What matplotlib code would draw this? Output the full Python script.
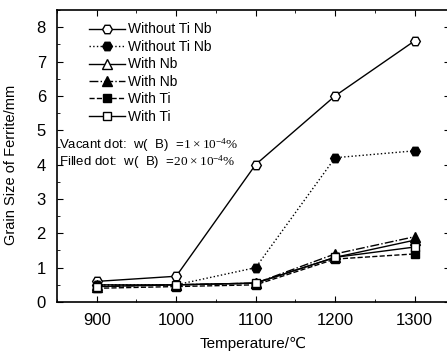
import matplotlib.pyplot as plt
from matplotlib.ticker import MultipleLocator

plt.rcParams['font.family'] = ['Liberation Sans', 'DejaVu Sans']
plt.rcParams['mathtext.fontset'] = 'custom'
plt.rcParams['mathtext.rm'] = 'Liberation Serif'

# temperatures (C)
temps = [900, 1000, 1100, 1200, 1300]
# grain size of ferrite (mm)
no_tinb_open = [0.6, 0.75, 4.0, 6.0, 7.6]
no_tinb_fill = [0.5, 0.5, 1.0, 4.2, 4.4]
nb_open = [0.5, 0.5, 0.55, 1.3, 1.8]
nb_fill = [0.45, 0.5, 0.55, 1.4, 1.9]
ti_fill = [0.4, 0.45, 0.5, 1.25, 1.4]
ti_open = [0.45, 0.5, 0.55, 1.3, 1.6]

fig = plt.figure(figsize=(4.47, 3.61), dpi=100)
ax = fig.add_axes([0.1275, 0.1634, 0.88, 0.809])

ms = 7
ax.plot(temps, no_tinb_open, '-', marker='H', ms=ms, mfc='white', mec='black', color='black', lw=1, label='Without Ti Nb')
ax.plot(temps, no_tinb_fill, ':', marker='H', ms=ms, mfc='black', mec='black', color='black', lw=1, label='Without Ti Nb')
ax.plot(temps, nb_open, '-', marker='^', ms=ms, mfc='white', mec='black', color='black', lw=1, label='With Nb')
ax.plot(temps, nb_fill, '-.', marker='^', ms=ms, mfc='black', mec='black', color='black', lw=1, label='With Nb')
ax.plot(temps, ti_fill, '--', marker='s', ms=6, mfc='black', mec='black', color='black', lw=1, label='With Ti')
ax.plot(temps, ti_open, '-', marker='s', ms=6, mfc='white', mec='black', color='black', lw=1, label='With Ti')

ax.set_xlim(850, 1345)
ax.set_ylim(0, 8.5)
ax.xaxis.set_major_locator(MultipleLocator(100))
ax.xaxis.set_minor_locator(MultipleLocator(50))
ax.yaxis.set_major_locator(MultipleLocator(1))
ax.yaxis.set_minor_locator(MultipleLocator(0.5))
ax.tick_params(which='both', direction='in', top=True, right=True, labelsize=12)
ax.tick_params(which='major', length=4, pad=8)
ax.tick_params(which='minor', length=2.5)
for s in ax.spines.values():
    s.set_linewidth(1.2)

ax.set_xlabel('Temperature/℃', fontsize=11, labelpad=6)
ax.set_ylabel('Grain Size of Ferrite/mm', fontsize=10.5, labelpad=6)
ax.yaxis.set_label_coords(-0.1, 0.47)

ax.legend(loc='upper left', bbox_to_anchor=(0.05, 1.0), frameon=False, fontsize=10,
          handlelength=2.6, handletextpad=0.2, labelspacing=0.25, borderaxespad=0.5)

ax.text(0.005, 0.538, 'Vacant dot:  w(  B)  =$\\mathrm{1\\times10^{-4}\\%}$', transform=ax.transAxes,
        fontsize=9.5, va='center')
ax.text(0.005, 0.479, 'Filled dot:  w(  B)  =$\\mathrm{20\\times10^{-4}\\%}$', transform=ax.transAxes,
        fontsize=9.5, va='center')

fig.savefig('out.png', dpi=100)
